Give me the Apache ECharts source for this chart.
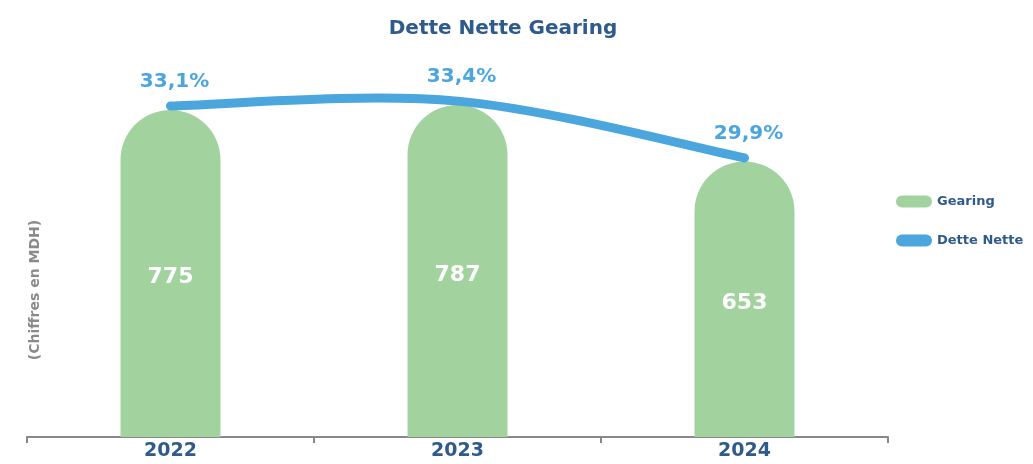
<!DOCTYPE html>
<html>
<head>
<meta charset="utf-8">
<script src="https://cdn.jsdelivr.net/npm/echarts@6/dist/echarts.min.js"></script>
<style>
  html, body { margin: 0; padding: 0; background: #fff; }
  #main { width: 1033px; height: 464px; }
</style>
</head>
<body>
<div id="main"></div>
<script>
const years = ["2022", "2023", "2024"];
const detteNette = [775, 787, 653];
const gearing = [33.1, 33.4, 29.9];

const green = "#a2d39f";
const blue = "#4ba6dd";
const navy = "#2f5a8c";
const pill = "path://M6,0 L30,0 A6,6 0 0 1 30,12 L6,12 A6,6 0 0 1 6,0 Z";

const chart = echarts.init(document.getElementById("main"));

// courbe lissée façon Excel (Catmull-Rom) en passant par les échelles
function renderCurve(params, api) {
  if (params.dataIndex !== 0) return null;
  const pts = gearing.map((v, i) => api.coord([i, v]));
  let d = "M" + pts[0][0] + "," + pts[0][1];
  for (let i = 0; i < pts.length - 1; i++) {
    const p0 = pts[Math.max(i - 1, 0)];
    const p1 = pts[i];
    const p2 = pts[i + 1];
    const p3 = pts[Math.min(i + 2, pts.length - 1)];
    const c1x = p1[0] + (p2[0] - p0[0]) / 6, c1y = p1[1] + (p2[1] - p0[1]) / 6;
    const c2x = p2[0] - (p3[0] - p1[0]) / 6, c2y = p2[1] - (p3[1] - p1[1]) / 6;
    d += " C" + c1x + "," + c1y + " " + c2x + "," + c2y + " " + p2[0] + "," + p2[1];
  }
  return {
    type: "path",
    shape: { pathData: d },
    style: { fill: null, stroke: blue, lineWidth: 9, lineCap: "round" }
  };
}

const option = {
  title: {
    text: "Dette Nette Gearing",
    left: 498,
    textAlign: "center",
    top: 14,
    textStyle: { color: navy, fontSize: 20, fontWeight: "bold", fontFamily: "DejaVu Sans" }
  },
  legend: {
    orient: "vertical",
    left: 891,
    top: 190,
    itemGap: 26,
    itemWidth: 36,
    itemHeight: 12,
    textStyle: { color: navy, fontSize: 13, fontWeight: "bold", fontFamily: "DejaVu Sans" },
    data: [
      { name: "Gearing", icon: pill, itemStyle: { color: green } },
      { name: "Dette Nette", icon: pill, itemStyle: { color: blue } }
    ]
  },
  graphic: [
    {
      type: "text",
      x: 35,
      y: 290,
      rotation: Math.PI / 2,
      style: {
        text: "(Chiffres en MDH)",
        fill: "#8a8a8a",
        font: "bold 14px 'DejaVu Sans'",
        align: "center",
        verticalAlign: "middle"
      }
    }
  ],
  grid: { left: 27, right: 145, top: 15, bottom: 27 },
  xAxis: {
    type: "category",
    data: years,
    axisLine: { lineStyle: { color: "#888", width: 2 } },
    axisTick: { show: true, length: 6, lineStyle: { color: "#888", width: 2 } },
    axisLabel: { color: navy, fontSize: 19, fontWeight: "bold", fontFamily: "DejaVu Sans", margin: 5 }
  },
  yAxis: [
    {
      type: "value",
      min: 0,
      max: 1000,
      show: false,
      splitLine: { show: false }
    },
    {
      type: "value",
      min: 12.73,
      max: 38.7,
      show: false,
      splitLine: { show: false }
    }
  ],
  series: [
    {
      name: "Gearing",
      type: "bar",
      data: detteNette,
      barWidth: 100,
      itemStyle: { color: green, borderRadius: [50, 50, 0, 0] },
      label: {
        show: true,
        position: "inside",
        offset: [0, 4],
        color: "#fff",
        fontSize: 22,
        fontWeight: "bold",
        fontFamily: "DejaVu Sans"
      }
    },
    {
      name: "Dette Nette",
      type: "custom",
      yAxisIndex: 1,
      data: gearing,
      renderItem: renderCurve,
      itemStyle: { color: blue },
      z: 3
    },
    {
      name: "Dette Nette",
      type: "line",
      yAxisIndex: 1,
      data: gearing,
      symbol: "circle",
      symbolSize: 1,
      lineStyle: { opacity: 0 },
      itemStyle: { color: "rgba(0,0,0,0)" },
      z: 4,
      label: {
        show: true,
        position: "top",
        distance: 14,
        offset: [4, 0],
        color: blue,
        fontSize: 20,
        fontWeight: "bold",
        fontFamily: "DejaVu Sans",
        formatter: p => p.value.toFixed(1).replace(".", ",") + "%"
      }
    }
  ]
};

chart.setOption(option);
</script>
</body>
</html>
